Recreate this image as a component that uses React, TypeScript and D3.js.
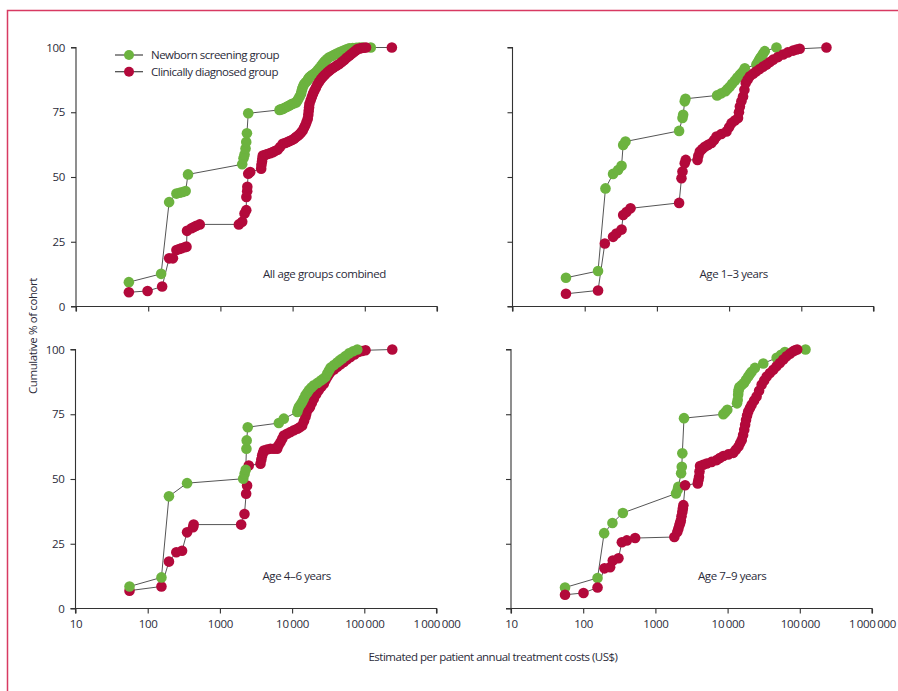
import * as d3 from "d3";
import { useEffect, useRef } from "react";

// axis ticks and labels
const costTicks = [10, 100, 1000, 10000, 100000, 1000000];
const costTickLabels = ["10", "100", "1000", "10\u2009000", "100\u2009000", "1\u2009000\u2009000"];
const pctTicks = [0, 25, 50, 75, 100];
const seriesNames = ["Newborn screening group", "Clinically diagnosed group"];
const panelTitles = ["All age groups combined", "Age 1\u20133 years", "Age 4\u20136 years", "Age 7\u20139 years"];

// [annual cost US$, cumulative %]
const allNewborn = [[54,9.4],[151,12.6],[195,40.3],[246,43.6],[273,43.9],[300,44.2],[330,44.6],[356,51.0],[2005,54.9],[2090,57.2],[2160,58.7],[2230,61.0],[2280,63.5],[2330,66.9],[2430,74.6],[6580,75.9],[6900,76.1],[7300,76.3],[7700,76.6],[8200,77.0],[8600,77.3],[9030,77.6],[9500,78.0],[9940,78.3],[10500,78.5],[11200,78.8],[11600,79.4],[12000,80.1],[12500,81.1],[13100,82.1],[13300,83.1],[13600,84.1],[14000,85.0],[14500,85.9],[15200,86.6],[16000,87.2],[16500,87.9],[17100,88.5],[17900,89.0],[18800,89.5],[19900,89.9],[21100,90.4],[22200,91.2],[23400,92.0],[24700,92.8],[26000,93.6],[27200,94.3],[28400,94.9],[30200,95.6],[32200,96.2],[35000,96.7],[37800,97.2],[41000,97.7],[44300,98.1],[48000,98.5],[51900,98.9],[56000,99.3],[60900,99.7],[68000,99.8],[76100,99.9],[84000,100],[93000,100],[121000,100]];
const allClinical = [[54,5.5],[98,6.0],[156,7.7],[195,18.6],[220,18.6],[246,21.8],[270,22.2],[289,22.5],[320,22.9],[339,23.1],[345,29.2],[397,30.2],[430,30.7],[465,31.2],[518,31.7],[1800,31.7],[2005,32.7],[2160,35.9],[2280,37.2],[2290,42.3],[2350,44.5],[2360,46.2],[2430,51.3],[2590,51.9],[3670,53.2],[3700,54.6],[3770,56.0],[3820,57.2],[3870,58.3],[4200,58.6],[4500,58.9],[4900,59.2],[5310,59.6],[5700,60.0],[6200,60.5],[6700,61.6],[7300,62.8],[7900,63.1],[8500,63.5],[9100,63.9],[9800,64.3],[10500,64.8],[11200,65.4],[11800,65.9],[12500,66.5],[13100,67.2],[13800,68.0],[14400,69.0],[15000,70.0],[15600,71.2],[16200,72.5],[16500,74.0],[16700,75.5],[16900,76.8],[17100,78.2],[17800,79.6],[18500,81.0],[19200,82.2],[20000,83.3],[21000,84.5],[22000,85.7],[23300,86.8],[24800,87.8],[26300,88.7],[28000,89.5],[30000,90.3],[32200,91.0],[34500,91.7],[37000,92.3],[40500,93.0],[44300,93.6],[48000,94.4],[52000,95.2],[56000,96.0],[60900,96.8],[65000,97.5],[70000,98.2],[75000,98.8],[79300,99.4],[85000,99.6],[90000,99.8],[97000,99.9],[104000,100],[237000,100]];

const age13Newborn = [[55,11.1],[153,13.7],[194,45.6],[247,51.2],[290,52.7],[324,54.3],[341,62.4],[367,63.7],[2030,67.8],[2260,72.8],[2310,74.0],[2430,79.2],[2490,80.2],[6820,81.5],[7800,82.3],[8910,83.1],[9500,84.0],[10200,84.8],[11000,86.0],[12000,87.2],[13000,88.4],[14100,89.5],[15000,90.3],[16000,91.1],[16500,92.0],[23900,93.4],[25000,94.3],[26000,95.2],[27000,95.9],[28100,96.6],[29500,97.6],[31200,98.6],[45300,100]];
const age13Clinical = [[55,4.9],[153,6.2],[190,24.3],[247,26.9],[275,28.2],[324,29.7],[341,35.3],[379,36.5],[431,37.9],[2030,40.0],[2190,49.5],[2260,52.1],[2430,55.3],[2510,56.6],[3650,56.6],[3750,58.2],[3930,59.8],[4250,60.8],[4610,61.7],[5100,62.4],[5700,63.1],[6200,64.3],[6690,65.6],[7800,66.6],[9200,67.6],[10000,69.2],[10800,70.8],[12000,71.8],[13300,72.8],[13700,75.0],[14100,77.2],[14800,79.2],[15600,81.1],[16300,83.7],[17000,86.3],[18100,87.6],[19400,88.9],[21500,89.9],[23900,90.8],[26500,91.7],[29500,92.6],[33000,93.4],[36700,94.4],[40700,95.3],[47500,96.3],[56000,97.3],[65000,98.1],[77000,98.8],[86000,99.2],[95000,99.5],[223000,100]];

const age46Newborn = [[56,8.5],[155,12.0],[197,43.3],[351,48.4],[2100,50.1],[2200,52.0],[2280,53.6],[2330,61.7],[2350,64.9],[2430,70.0],[6550,71.6],[7680,73.3],[11800,75.9],[12100,76.9],[12400,77.8],[13100,78.8],[13800,79.7],[14500,81.0],[15300,82.3],[16200,83.3],[17100,84.3],[18500,85.3],[20000,86.2],[22500,87.1],[25000,88.0],[27000,88.7],[29000,89.4],[30700,90.7],[32400,91.9],[34100,93.0],[38000,94.0],[42000,95.0],[45500,95.8],[49500,96.5],[55000,97.5],[61200,98.5],[70000,99.3],[80000,100]];
const age46Clinical = [[56,6.9],[155,8.5],[197,18.1],[249,21.7],[299,22.3],[351,29.4],[425,31.4],[433,32.4],[1970,32.4],[2190,36.5],[2310,44.3],[2380,47.5],[2510,55.2],[3650,55.9],[3750,57.5],[3850,59.1],[3950,60.0],[4060,61.0],[4500,61.4],[5010,61.7],[5600,61.7],[6210,61.7],[6500,63.0],[6900,64.2],[7300,65.5],[7680,66.8],[8500,67.5],[9500,68.1],[10600,68.8],[11800,69.4],[12800,70.0],[13800,70.7],[14600,72.3],[15300,73.9],[15700,75.2],[16200,76.5],[17000,77.2],[17700,77.8],[18800,79.4],[20000,81.0],[21600,82.7],[23400,84.3],[25400,85.6],[27500,86.8],[29000,88.1],[30700,89.4],[32400,90.4],[34100,91.3],[38000,92.3],[42300,93.3],[47000,94.3],[52100,95.2],[58000,96.2],[64300,97.1],[73000,98.1],[84000,99.1],[93000,99.4],[104000,99.7],[244000,100]];

const age79Newborn = [[56,8.1],[158,11.8],[195,29.1],[254,33.0],[354,36.9],[1930,44.4],[2040,45.9],[2080,47.0],[2270,52.2],[2320,54.7],[2360,59.9],[2490,73.5],[8730,75.0],[9300,75.8],[9910,76.7],[13500,79.2],[13800,80.5],[14000,82.5],[14100,83.8],[14300,84.7],[14600,85.5],[15700,86.3],[16900,87.1],[18000,88.3],[19300,89.6],[20400,90.5],[21500,91.4],[23900,92.9],[31200,94.6],[47800,96.8],[55000,98.0],[62200,99.0],[120000,100]];
const age79Clinical = [[56,5.3],[101,6.0],[158,8.1],[197,15.5],[236,15.9],[257,18.5],[308,19.4],[343,25.6],[402,26.3],[524,27.2],[1830,27.6],[2010,29.5],[2080,30.8],[2150,32.1],[2200,33.0],[2250,34.0],[2300,35.6],[2360,37.3],[2400,38.6],[2440,39.9],[2580,47.6],[3860,48.3],[3940,49.5],[4020,50.8],[4080,52.9],[4150,55.0],[4600,55.5],[5140,56.0],[6000,56.6],[7070,57.3],[7800,58.1],[8730,58.9],[10200,59.5],[12000,60.1],[13000,61.3],[14100,62.5],[14900,63.8],[15700,65.1],[16400,67.0],[17000,69.0],[17500,70.9],[18000,72.8],[18600,74.5],[19300,76.1],[20400,77.4],[21500,78.7],[23300,80.3],[25200,81.9],[27300,84.1],[29600,86.4],[32100,88.0],[34800,89.6],[38600,90.9],[42900,92.2],[47700,93.5],[53000,94.8],[59000,96.1],[65600,97.4],[73000,98.4],[81100,99.3],[86000,99.7],[92000,100]];

const panelData = [
  [allNewborn, allClinical],
  [age13Newborn, age13Clinical],
  [age46Newborn, age46Clinical],
  [age79Newborn, age79Clinical],
];

const green = "#6cb33f";
const red = "#b3093b";
const ink = "#2b2b3a";
const font = "'Open Sans', sans-serif";

const App = () => {
  const svgRef = useRef(null);
  const W = 898;
  const H = 691;
  const pw = 361;
  const ph = 259;
  const origins = [[76, 47.5], [512.5, 47.5], [75.5, 349.5], [511, 349.5]];

  useEffect(() => {
    const svg = d3.select(svgRef.current);
    svg.selectAll("*").remove();

    // page frame
    svg.append("path").attr("d", `M7.5,${H} V10.5 H${W}`)
      .attr("fill", "none").attr("stroke", "#d83a62").attr("stroke-width", 1.5);

    const x = d3.scaleLog().domain([10, 1000000]).range([0, pw]);
    const y = d3.scaleLinear().domain([0, 100]).range([ph, 0]);
    const line = d3.line().x(d => x(d[0])).y(d => y(d[1]));

    panelData.forEach((series, i) => {
      const [ox, oy] = origins[i];
      const g = svg.append("g").attr("transform", `translate(${ox},${oy})`);
      const left = i % 2 === 0;

      const yAxis = d3.axisLeft(y).tickValues(pctTicks).tickSize(5).tickPadding(6)
        .tickFormat(d => (left ? String(d) : ""));
      const ya = g.append("g").call(yAxis);
      ya.select(".domain").attr("d", `M-5,${ph}H0V0H-5`);

      const xAxis = d3.axisBottom(x).tickValues(costTicks).tickSize(5).tickPadding(6)
        .tickFormat((d, j) => (i >= 2 ? costTickLabels[j] : ""));
      const xa = g.append("g").attr("transform", `translate(0,${ph})`).call(xAxis);
      xa.select(".domain").attr("d", `M0,5V0H${pw}V5`);

      [ya, xa].forEach(a => {
        a.selectAll("path, line").attr("stroke", "#333").attr("stroke-width", 1.1);
        a.selectAll("text").attr("fill", ink).attr("font-family", font).attr("font-size", 11.5)
          .attr("letter-spacing", -0.3);
      });

      // connecting lines
      series.forEach(s => {
        g.append("path").attr("d", line(s)).attr("fill", "none")
          .attr("stroke", "#555").attr("stroke-width", 1);
      });

      const order = i === 2 ? [1, 0] : [0, 1];
      order.forEach(k => {
        g.append("g").selectAll("circle").data(series[k]).join("circle")
          .attr("cx", d => x(d[0])).attr("cy", d => y(d[1])).attr("r", 5.3)
          .attr("fill", k === 0 ? green : red);
      });

      g.append("text").attr("x", 187).attr("y", ph - 29).text(panelTitles[i])
        .attr("fill", ink).attr("font-family", font).attr("font-size", 11.5).attr("letter-spacing", -0.4);
    });

    // legend
    const lg = svg.append("g").attr("transform", "translate(115,55)");
    seriesNames.forEach((name, k) => {
      const row = lg.append("g").attr("transform", `translate(0,${k * 16.7})`);
      row.append("line").attr("x1", 0).attr("x2", 28).attr("stroke", "#444").attr("stroke-width", 1.2);
      row.append("circle").attr("cx", 14).attr("r", 5).attr("fill", k === 0 ? green : red);
      row.append("text").attr("x", 36).attr("y", 4).text(name).attr("fill", ink)
        .attr("font-family", font).attr("font-size", 11.5).attr("letter-spacing", -0.5);
    });

    // axis titles
    svg.append("text").attr("transform", "translate(37,336) rotate(-90)").attr("text-anchor", "middle")
      .text("Cumulative % of cohort").attr("fill", ink).attr("font-family", font)
      .attr("font-size", 11.5).attr("letter-spacing", -0.4);
    svg.append("text").attr("x", 493).attr("y", 661).attr("text-anchor", "middle")
      .text("Estimated per patient annual treatment costs (US$)").attr("fill", ink)
      .attr("font-family", font).attr("font-size", 11.5).attr("letter-spacing", -0.5);
  }, []);

  return (
    <svg ref={svgRef} width={W} height={H}
      style={{ position: "absolute", left: 0, top: 0, background: "#fff" }} />
  );
};

export default App;
